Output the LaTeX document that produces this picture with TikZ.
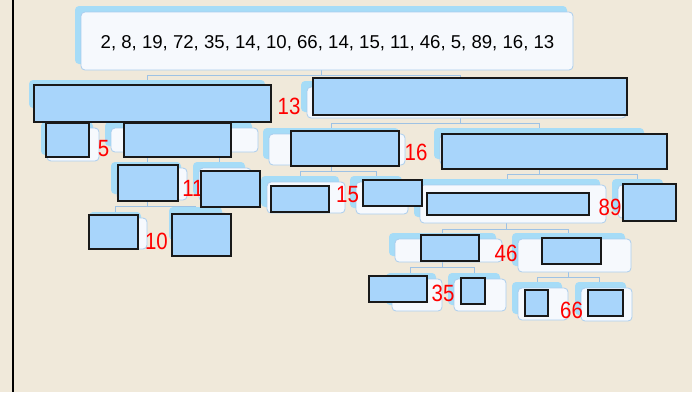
\documentclass[tikz,border=0pt]{standalone}
\usepackage{fontspec}
\setmainfont{Liberation Sans}
\usetikzlibrary{fit,shadows}
\definecolor{bg}{RGB}{240,233,218}
\definecolor{shadowblue}{RGB}{166,220,247}
\definecolor{cardfill}{RGB}{246,249,253}
\definecolor{cardedge}{RGB}{170,205,238}
\definecolor{maskblue}{RGB}{168,213,251}
\definecolor{connblue}{RGB}{158,194,228}
\definecolor{numred}{RGB}{255,0,0}
\tikzset{
  card/.style={draw=cardedge, line width=0.8pt, fill=cardfill, rounded corners=4pt, inner sep=0pt,
    general shadow={fill=shadowblue, shadow xshift=-6pt, shadow yshift=6pt}},
  mask/.style={draw=black!90, line width=1.1pt, fill=maskblue, inner sep=0pt},
  conn/.style={draw=connblue, line width=1pt},
  num/.style={text=numred, font=\fontsize{23.5}{25}\selectfont, inner sep=0pt, xscale=0.87},
  seq/.style={text=black, font=\fontsize{18.6}{21}\selectfont, inner sep=0pt}
}
\begin{document}
\begin{tikzpicture}[x=1pt,y=-1pt]
\fill[bg] (0,0) rectangle (692,392);
\useasboundingbox (0,0) rectangle (692,392);
\draw[line width=2pt] (12.5,0) -- (12.5,392);

% connectors
\draw[conn] (321,70) -- (321,75.5) (147,80) -- (147,75.5) -- (460.5,75.5) -- (460.5,81);
\draw[conn] (153,114) -- (153,118) (67,122) -- (67,118) -- (181,118) -- (181,122);
\draw[conn] (460.5,116) -- (460.5,123) (331.7,128) -- (331.7,123) -- (539,123) -- (539,128);
\draw[conn] (183,152) -- (183,156.5) (147,162) -- (147,156.5) -- (219,156.5) -- (219,162);
\draw[conn] (147,201) -- (147,206) (115.7,212) -- (115.7,206) -- (195,206) -- (195,207.5);
\draw[conn] (331,165) -- (331,171.7) (300,176) -- (300,171.7) -- (376.7,171.7) -- (376.7,176);
\draw[conn] (539,169) -- (539,174) (507.3,179) -- (507.3,174) -- (637.7,174) -- (637.7,179);
\draw[conn] (506.7,223) -- (506.7,229) (442.7,233.5) -- (442.7,229) -- (568.3,229) -- (568.3,233.5);
\draw[conn] (442.3,262) -- (442.3,267.7) (410.7,273.5) -- (410.7,267.7) -- (474.3,267.7) -- (474.3,273.5);
\draw[conn] (568.3,272) -- (568.3,277.7) (537.3,282.5) -- (537.3,277.7) -- (599.3,277.7) -- (599.3,282.5);

% cards
\node[card, fit={(81,12) (573,70)}] (top) {};
\node[card, fit={(35,86) (271,114)}] (c1a) {};
\node[card, fit={(307,87) (626,118)}] (c1b) {};
\node[card, fit={(47,128) (99,161)}] (c2a) {};
\node[card, fit={(111,128) (258,152)}] (c2b) {};
\node[card, fit={(269,134) (405,165)}] (c2c) {};
\node[card, fit={(440,134) (650,165)}] (c2d) {};
\node[card, fit={(117,168) (187,200)}] (c3a) {};
\node[card, fit={(199,168) (251,201)}] (c3b) {};
\node[card, fit={(267,182) (345,213)}] (c3c) {};
\node[card, fit={(356,182) (408,214)}] (c3d) {};
\node[card, fit={(420,185) (606,223)}] (c3e) {};
\node[card, fit={(618,185) (669,218)}] (c3f) {};
\node[card, fit={(95,218) (147,249)}] (c4a) {};
\node[card, fit={(175,213) (228,246)}] (c4b) {};
\node[card, fit={(395,239) (502,262)}] (c4c) {};
\node[card, fit={(518,239) (631,272)}] (c4d) {};
\node[card, fit={(392,279) (442,311)}] (c5a) {};
\node[card, fit={(454,279) (506,311)}] (c5b) {};
\node[card, fit={(518,288) (568,320)}] (c5c) {};
\node[card, fit={(581,288) (632,321)}] (c5d) {};

\node[seq] (seqtext) at (327.5,43) {2, 8, 19, 72, 35, 14, 10, 66, 14, 15, 11, 46, 5, 89, 16, 13};

% red numbers
\node[num] (n13) at (289,106) {13};
\node[num] (n5) at (103.5,149) {5};
\node[num] (n16) at (416,152) {16};
\node[num] (n11) at (193,188) {11};
\node[num] (n15) at (347.5,195) {15};
\node[num] (n10) at (156.5,241) {10};
\node[num] (n89) at (610,207.5) {89};
\node[num] (n46) at (506,253) {46};
\node[num] (n35) at (443,293) {35};
\node[num] (n66) at (571.5,310) {66};

% masks
\node[mask, fit={(34,85) (271,122)}] (m1a) {};
\node[mask, fit={(313,78) (627,115)}] (m1b) {};
\node[mask, fit={(46,123) (89,157)}] (m2a) {};
\node[mask, fit={(124,123) (231,157)}] (m2b) {};
\node[mask, fit={(291,131) (399,166)}] (m2c) {};
\node[mask, fit={(442,134) (667,169)}] (m2d) {};
\node[mask, fit={(118,165) (178,201)}] (m3a) {};
\node[mask, fit={(201,171) (260,207)}] (m3b) {};
\node[mask, fit={(271,186) (329,212)}] (m3c) {};
\node[mask, fit={(363,180) (422,206)}] (m3d) {};
\node[mask, fit={(427,193) (589,215)}] (m3e) {};
\node[mask, fit={(623,184) (676,221)}] (m3f) {};
\node[mask, fit={(89,215) (138,249)}] (m4a) {};
\node[mask, fit={(172,214) (231,256)}] (m4b) {};
\node[mask, fit={(421,235) (479,261)}] (m4c) {};
\node[mask, fit={(542,238) (601,264)}] (m4d) {};
\node[mask, fit={(369,276) (427,302)}] (m5a) {};
\node[mask, fit={(461,278) (485,304)}] (m5b) {};
\node[mask, fit={(525,290) (548,316)}] (m5c) {};
\node[mask, fit={(588,290) (623,316)}] (m5d) {};
\end{tikzpicture}
\end{document}
